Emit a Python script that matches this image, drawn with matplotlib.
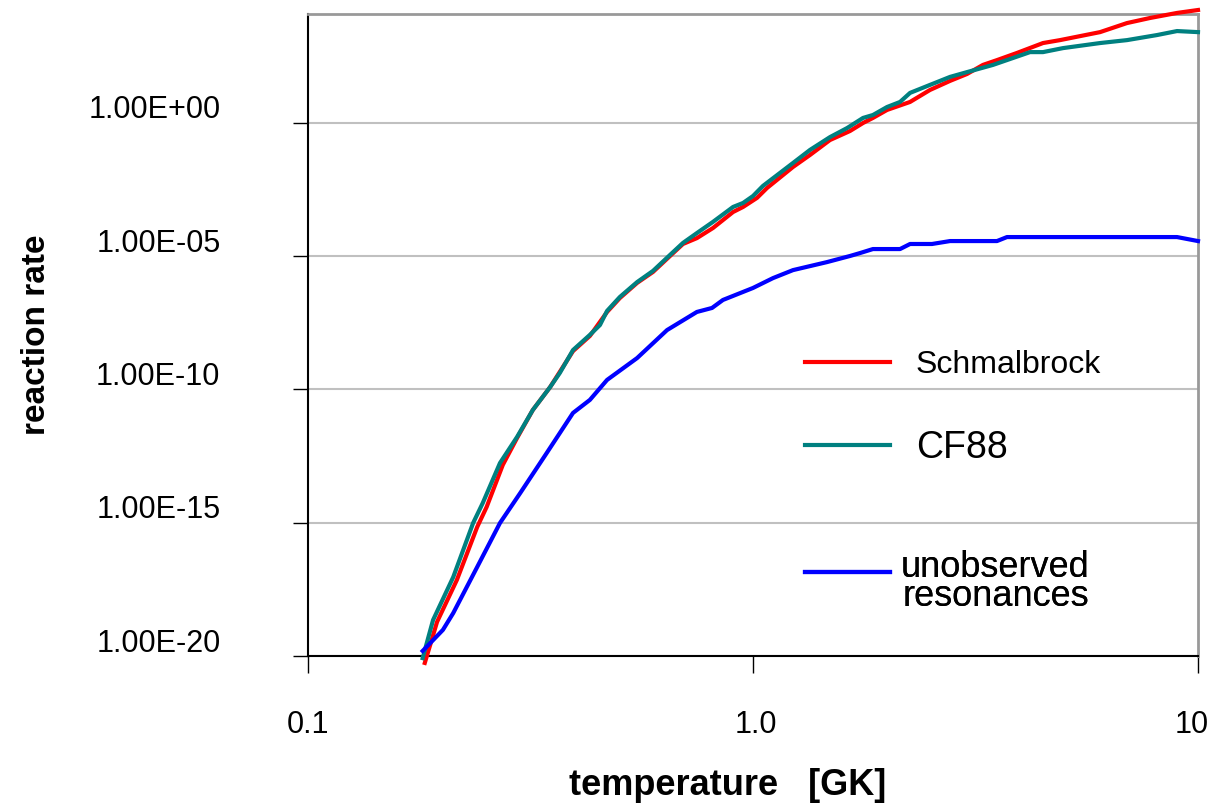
import numpy as np
import matplotlib
matplotlib.use("Agg")
import matplotlib.pyplot as plt
import matplotlib.transforms as mtransforms

plt.rcParams['font.family'] = ['Liberation Sans', 'DejaVu Sans']

# temperature in GK, rate given as log10 value
schmal_T = [0.183, 0.195, 0.216, 0.240, 0.252, 0.274, 0.295, 0.320, 0.350, 0.394,
            0.430, 0.470, 0.502, 0.549, 0.596, 0.651, 0.696, 0.748, 0.813, 0.902,
            0.950, 1.021, 1.075, 1.230, 1.343, 1.489, 1.652, 1.767, 1.860, 2.001,
            2.254, 2.499, 2.772, 3.027, 3.287, 3.534, 3.921, 4.484, 4.897, 6.024,
            6.925, 7.800, 8.972, 10.0]
schmal_log = [-20.26, -18.72, -17.15, -15.16, -14.41, -12.83, -11.82, -10.77, -9.91, -8.56,
              -7.99, -7.09, -6.57, -6.00, -5.59, -4.99, -4.54, -4.32, -3.94, -3.34,
              -3.15, -2.81, -2.44, -1.65, -1.20, -0.64, -0.30, 0.00, 0.19, 0.49,
              0.79, 1.24, 1.58, 1.84, 2.18, 2.36, 2.63, 3.00, 3.11, 3.41,
              3.75, 3.94, 4.13, 4.24]

cf88_T = [0.181, 0.191, 0.212, 0.235, 0.247, 0.270, 0.295, 0.320, 0.350, 0.368,
          0.394, 0.430, 0.453, 0.470, 0.502, 0.549, 0.596, 0.651, 0.696, 0.748,
          0.813, 0.902, 0.950, 1.0, 1.053, 1.230, 1.343, 1.489, 1.627, 1.767,
          1.860, 2.001, 2.140, 2.254, 2.499, 2.772, 3.027, 3.462, 4.193, 4.484,
          4.973, 6.024, 6.925, 8.088, 8.972, 10.0]
cf88_log = [-20.08, -18.65, -17.04, -15.01, -14.26, -12.76, -11.78, -10.77, -9.91, -9.38,
            -8.52, -7.95, -7.58, -7.05, -6.53, -5.97, -5.55, -4.95, -4.50, -4.13,
            -3.71, -3.15, -3.00, -2.74, -2.36, -1.50, -1.01, -0.53, -0.19, 0.19,
            0.30, 0.60, 0.79, 1.13, 1.43, 1.73, 1.91, 2.18, 2.66, 2.66,
            2.81, 3.00, 3.11, 3.30, 3.45, 3.41]

unobs_T = [0.181, 0.201, 0.212, 0.240, 0.270, 0.300, 0.344, 0.394, 0.430, 0.470,
           0.549, 0.641, 0.748, 0.809, 0.856, 1.0, 1.109, 1.230, 1.466, 1.652,
           1.740, 1.860, 2.140, 2.254, 2.525, 2.772, 3.534, 3.722, 6.024, 8.088,
           8.972, 10.0]
unobs_log = [-19.81, -19.02, -18.39, -16.66, -15.01, -13.88, -12.38, -10.88, -10.39, -9.64,
             -8.82, -7.77, -7.09, -6.94, -6.64, -6.19, -5.82, -5.52, -5.22, -4.99,
             -4.88, -4.73, -4.73, -4.54, -4.54, -4.43, -4.43, -4.28, -4.28, -4.28,
             -4.28, -4.43]

ytick_vals = [1e-20, 1e-15, 1e-10, 1e-5, 1e0]
ytick_labels = ['1.00E-20', '1.00E-15', '1.00E-10', '1.00E-05', '1.00E+00']
xtick_vals = [0.1, 1.0, 10]
xtick_labels = ['0.1', '1.0', '10']

fig = plt.figure(figsize=(12.1, 8.06), dpi=100)
ax = fig.add_axes([308/1210, 150/806, 890/1210, 642/806])

l_red, = ax.plot(schmal_T, np.power(10.0, schmal_log), color='#ff0000', lw=3, clip_on=False, zorder=3)
l_teal, = ax.plot(cf88_T, np.power(10.0, cf88_log), color='#008080', lw=3, clip_on=False, zorder=4)
l_blue, = ax.plot(unobs_T, np.power(10.0, unobs_log), color='#0000ff', lw=3, clip_on=False, zorder=5)

ax.set_xscale('log')
ax.set_yscale('log')
ax.set_xlim(0.1, 10)
ax.set_ylim(1e-20, 10**4.09)

ax.set_xticks(xtick_vals)
ax.set_xticklabels(xtick_labels)
ax.set_yticks(ytick_vals)
ax.set_yticklabels(ytick_labels)
ax.minorticks_off()

ax.grid(axis='y', color='#c0c0c0', lw=1.5)
ax.set_axisbelow(True)

ax.tick_params(axis='x', direction='out', length=12, width=1, pad=27, labelsize=22, color='black')
ax.tick_params(axis='y', direction='out', length=11, width=1, pad=52, labelsize=22, color='black')

# y labels sit a bit above their tick
for lab in ax.get_yticklabels():
    lab.set_transform(lab.get_transform() + mtransforms.ScaledTranslation(0, 16/100, fig.dpi_scale_trans))
# last x label is pulled in a little, as in the original
xl = ax.get_xticklabels()
xl[-1].set_transform(xl[-1].get_transform() + mtransforms.ScaledTranslation(-6/100, 0, fig.dpi_scale_trans))
xl[1].set_transform(xl[1].get_transform() + mtransforms.ScaledTranslation(3/100, 0, fig.dpi_scale_trans))

for s in ['left', 'bottom']:
    ax.spines[s].set_color('black')
    ax.spines[s].set_linewidth(1.5)
for s in ['top', 'right']:
    ax.spines[s].set_color('#999999')
    ax.spines[s].set_linewidth(2)

ax.set_ylabel('reaction rate', fontsize=24, fontweight='bold')
ax.yaxis.set_label_coords(-0.288, 0.5)
ax.set_xlabel('temperature   [GK]', fontsize=26, fontweight='bold')
ax.xaxis.set_label_coords(0.472, -0.175)

def add_key(handle, label, size, ypix, hlen, tpad):
    leg = ax.legend([handle], [label], loc='center left',
                    bbox_to_anchor=(805/1210, 1 - ypix/806), bbox_transform=fig.transFigure,
                    frameon=False, fontsize=size, handlelength=hlen, handletextpad=tpad,
                    borderpad=0, borderaxespad=0)
    ax.add_artist(leg)
    return leg

add_key(l_red, 'Schmalbrock', 23, 365, 85/32, 0.8)
add_key(l_teal, 'CF88', 27, 448, 85/37.5, 0.7)
leg3 = add_key(l_blue, 'unobserved\nresonances', 26, 582, 85/36, 0.3)
t3 = leg3.get_texts()[0]
t3.set_linespacing(0.76)
t3.set_multialignment('center')
# key line lines up with the first text line
h3 = leg3.legend_handles[0]
h3.set_transform(h3.get_transform() + mtransforms.ScaledTranslation(0, 11/100, fig.dpi_scale_trans))

fig.savefig('out.png', dpi=100)
